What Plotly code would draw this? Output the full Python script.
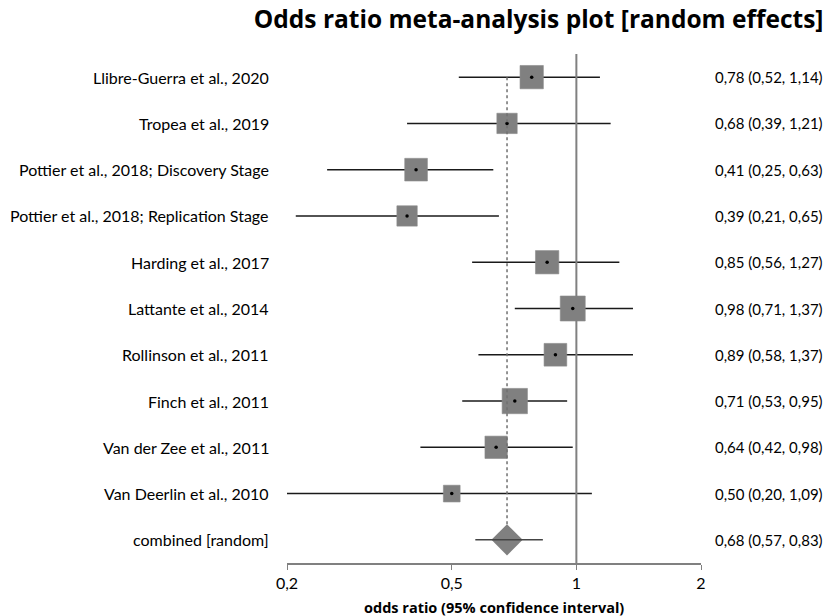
import plotly.graph_objects as go

# Study data: odds ratios with 95% confidence intervals and relative weights (%)
studies = [
    "Llibre-Guerra et al., 2020",
    "Tropea et al., 2019",
    "Pottier et al., 2018; Discovery Stage",
    "Pottier et al., 2018; Replication Stage",
    "Harding et al., 2017",
    "Lattante et al., 2014",
    "Rollinson et al., 2011",
    "Finch et al., 2011",
    "Van der Zee et al., 2011",
    "Van Deerlin et al., 2010",
]
odds_ratio = [0.78, 0.68, 0.41, 0.39, 0.85, 0.98, 0.89, 0.71, 0.64, 0.50]
ci_low = [0.52, 0.39, 0.25, 0.21, 0.56, 0.71, 0.58, 0.53, 0.42, 0.20]
ci_high = [1.14, 1.21, 0.63, 0.65, 1.27, 1.37, 1.37, 0.95, 0.98, 1.09]
weights = [10.9, 8.3, 10.3, 8.3, 10.9, 12.5, 10.3, 12.8, 10.0, 5.6]

combined_label = "combined [random]"
combined_or = 0.68
combined_low = 0.57
combined_high = 0.83

tick_vals = [0.2, 0.5, 1, 2]
tick_text = ["0,2", "0,5", "1", "2"]

FONT = "Lato, Carlito, Calibri, sans-serif"
HEAD_FONT = "Open Sans, Segoe UI, sans-serif"
GRAY = "#808080"


def fmt(v):
    return f"{v:.2f}".replace(".", ",")


n = len(studies)
rows = list(range(n + 1, 1, -1))  # study rows from top to bottom
comb_row = 1

fig = go.Figure()

# Confidence interval whiskers for each study
for i in range(n):
    fig.add_trace(go.Scatter(
        x=[ci_low[i], ci_high[i]], y=[rows[i], rows[i]], mode="lines",
        line=dict(color="#1a1a1a", width=1.5), hoverinfo="skip", showlegend=False,
    ))

# Weighted study squares
fig.add_trace(go.Scatter(
    x=odds_ratio, y=rows, mode="markers",
    marker=dict(symbol="square", size=[7.07 * w ** 0.5 for w in weights],
                color=GRAY, opacity=1, line=dict(color="#8c8c8c", width=0.6)),
    showlegend=False,
))

# Pooled estimate diamond and its interval
fig.add_trace(go.Scatter(
    x=[combined_or], y=[comb_row], mode="markers",
    marker=dict(symbol="diamond", size=24, color=GRAY, opacity=1, line=dict(width=0)),
    showlegend=False,
))
fig.add_trace(go.Scatter(
    x=[combined_low, combined_high], y=[comb_row, comb_row], mode="lines",
    line=dict(color="#444444", width=1.5), hoverinfo="skip", showlegend=False,
))

# Point estimate dots
fig.add_trace(go.Scatter(
    x=odds_ratio, y=rows, mode="markers",
    marker=dict(symbol="circle", size=3.5, color="black", opacity=1), showlegend=False,
))

# Reference lines: null effect and pooled estimate
fig.add_trace(go.Scatter(
    x=[1, 1], y=[0.5, n + 1.5], mode="lines",
    line=dict(color=GRAY, width=2), hoverinfo="skip", showlegend=False,
))
fig.add_trace(go.Scatter(
    x=[combined_or, combined_or], y=[n + 1, comb_row + 0.33], mode="lines",
    line=dict(color="#707070", width=1.5, dash="dot"), hoverinfo="skip", showlegend=False,
))

# Row labels and estimate text
labels = studies + [combined_label]
label_rows = rows + [comb_row]
texts = [f"{fmt(o)} ({fmt(l)}, {fmt(h)})" for o, l, h in zip(odds_ratio, ci_low, ci_high)]
texts.append(f"{fmt(combined_or)} ({fmt(combined_low)}, {fmt(combined_high)})")

annotations = []
for lab, r, t in zip(labels, label_rows, texts):
    annotations.append(dict(
        x=-0.039, y=r, xref="paper", yref="y", text=lab, showarrow=False,
        xanchor="right", yanchor="middle", font=dict(family=FONT, size=16, color="black"),
    ))
    annotations.append(dict(
        x=1.029, y=r, xref="paper", yref="y", text=t, showarrow=False,
        xanchor="left", yanchor="middle", font=dict(family=FONT, size=15, color="black"),
    ))

# Axis title below the tick labels
annotations.append(dict(
    x=0.5, y=0, xref="paper", yref="paper", yshift=-44,
    text="<b>odds ratio (95% confidence interval)</b>", showarrow=False,
    xanchor="center", yanchor="middle",
    font=dict(family=HEAD_FONT, size=14.5, color="black"),
))

fig.update_layout(
    width=830, height=616,
    margin=dict(l=287, r=129, t=54, b=53),
    paper_bgcolor="white", plot_bgcolor="white",
    title=dict(text="<b>Odds ratio meta-analysis plot [random effects]</b>",
               x=0.649, xanchor="center", y=0.969, yanchor="middle",
               font=dict(family=HEAD_FONT, size=24.5, color="black")),
    xaxis=dict(type="log", range=[-0.69897, 0.30103],
               tickvals=tick_vals, ticktext=tick_text,
               ticks="outside", ticklen=5, tickcolor=GRAY, tickwidth=1,
               showline=True, linecolor=GRAY, linewidth=1.5,
               showgrid=False, zeroline=False, automargin=False,
               tickfont=dict(family=FONT, size=16, color="black")),
    yaxis=dict(range=[0.5, n + 1.5], visible=False, showgrid=False, zeroline=False),
    annotations=annotations,
    font=dict(family=FONT),
)

fig.write_html("out.html")
